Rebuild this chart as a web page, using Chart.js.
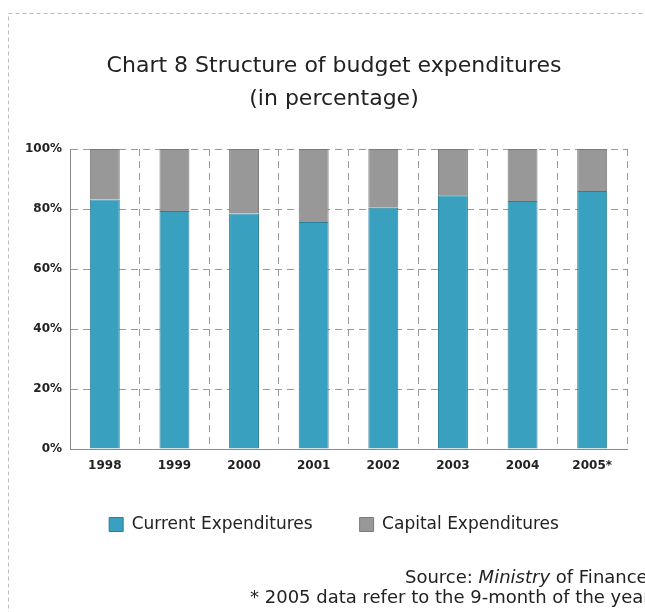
<!DOCTYPE html>
<html>
<head>
<meta charset="utf-8">
<title>Structure of budget expenditures</title>
<script src="https://cdn.jsdelivr.net/npm/chart.js@4.4.1/dist/chart.umd.min.js"></script>
<style>
  html, body { margin: 0; padding: 0; background: #fff; }
  #wrap { width: 645px; height: 612px; position: relative; }
</style>
</head>
<body>
<div id="wrap"><canvas id="grafico" width="645" height="612"></canvas></div>
<script>
// Anos e participação das despesas (%)
const anos = ['1998', '1999', '2000', '2001', '2002', '2003', '2004', '2005*'];
const despesasCorrentes = [83.2, 79.3, 78.5, 75.7, 80.4, 84.6, 82.7, 86.0];
const despesasCapital = [16.8, 20.7, 21.5, 24.3, 19.6, 15.4, 17.3, 14.0];
const yTicks = [0, 20, 40, 60, 80, 100];

const tituloLinhas = ['Chart 8 Structure of budget expenditures', '(in percentage)'];
// Fonte em três partes: o nome do ministério vai em itálico
const notaFonte = ['Source: ', 'Ministry', ' of Finance'];
const notaRodape = '* 2005 data refer to the 9-month of the year';

const FONTE = '"DejaVu Sans", sans-serif';

// Moldura tracejada e notas de rodapé
const molduraPlugin = {
  id: 'moldura',
  beforeDraw(chart) {
    const ctx = chart.ctx;
    ctx.save();
    ctx.strokeStyle = '#bdbdbd';
    ctx.lineWidth = 1;
    ctx.setLineDash([4, 3]);
    ctx.strokeRect(8.5, 13.5, 700, 700);
    ctx.restore();
  },
  afterDraw(chart) {
    const ctx = chart.ctx;
    ctx.save();
    ctx.fillStyle = '#222';
    ctx.textBaseline = 'middle';
    ctx.textAlign = 'left';
    let x = 405;
    notaFonte.forEach((parte, i) => {
      ctx.font = (i === 1 ? 'italic ' : '') + '18px ' + FONTE;
      ctx.fillText(parte, x, 578);
      x += ctx.measureText(parte).width;
    });
    ctx.font = '18px ' + FONTE;
    ctx.fillText(notaRodape, 250, 598);
    ctx.restore();
  }
};

const ctx = document.getElementById('grafico').getContext('2d');
new Chart(ctx, {
  type: 'bar',
  data: {
    labels: anos,
    datasets: [
      {
        label: 'Current Expenditures',
        data: despesasCorrentes,
        backgroundColor: '#39a0bf',
        borderColor: '#2b7f98',
        borderWidth: 1,
        categoryPercentage: 1,
        barPercentage: 0.43
      },
      {
        label: 'Capital Expenditures',
        data: despesasCapital,
        backgroundColor: '#989898',
        borderColor: '#7a7a7a',
        borderWidth: 1,
        categoryPercentage: 1,
        barPercentage: 0.43
      }
    ]
  },
  options: {
    responsive: false,
    animation: false,
    layout: { padding: { left: 41, right: 18, top: 0, bottom: 69 } },
    plugins: {
      title: {
        display: true,
        text: tituloLinhas,
        color: '#222',
        font: { family: FONTE, size: 22, weight: 'normal', lineHeight: 1.5 },
        padding: { top: 50, bottom: 33 }
      },
      legend: {
        display: true,
        position: 'bottom',
        labels: {
          color: '#222',
          font: { family: FONTE, size: 17 },
          boxWidth: 14,
          boxHeight: 14,
          padding: 47
        }
      },
      tooltip: { enabled: false }
    },
    scales: {
      x: {
        stacked: true,
        offset: true,
        grid: {
          display: true,
          offset: true,
          color: '#9a9a9a',
          drawTicks: false
        },
        border: { display: true, color: '#8a8a8a', dash: [7, 5] },
        ticks: {
          color: '#222',
          font: { family: FONTE, size: 12, weight: 'bold' },
          padding: 10
        },
        afterFit(scale) { scale.height = 20; }
      },
      y: {
        stacked: true,
        min: 0,
        max: 100,
        afterBuildTicks(scale) { scale.ticks = yTicks.map(v => ({ value: v })); },
        grid: {
          color: '#9a9a9a',
          drawTicks: false
        },
        border: { display: true, color: '#8a8a8a', dash: [7, 5] },
        ticks: {
          color: '#222',
          font: { family: FONTE, size: 12, weight: 'bold' },
          padding: 8,
          callback: v => v + '%'
        },
        afterFit(scale) {
          scale.width = 29;
          // rótulos passam da largura do eixo; sem recorte
          scale._computeLabelArea = () => undefined;
        }
      }
    }
  },
  plugins: [molduraPlugin]
});
</script>
</body>
</html>
